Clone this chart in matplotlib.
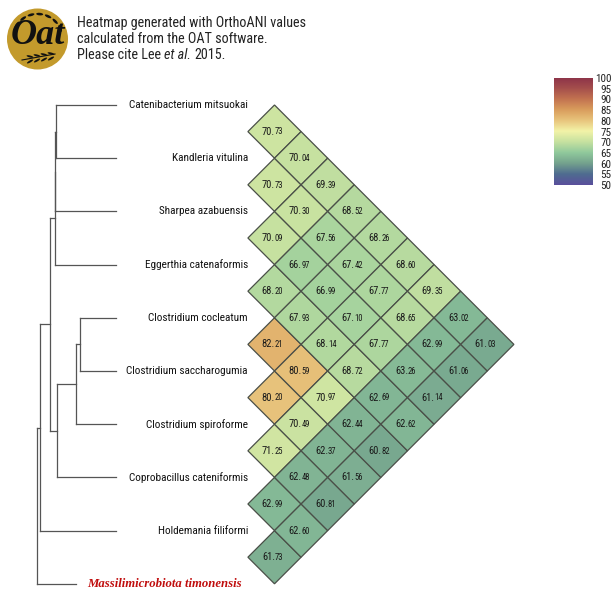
#!/usr/bin/env python

# OrthoANI heatmap with tree on the left

import numpy as np
import matplotlib
matplotlib.use('Agg')
import matplotlib.pyplot as plt
from matplotlib.colors import LinearSegmentedColormap
from matplotlib.patches import Circle, Ellipse, Polygon

plt.rcParams['font.family'] = ['Roboto Condensed', 'DejaVu Sans']

taxa = ['Catenibacterium mitsuokai', 'Kandleria vitulina', 'Sharpea azabuensis',
        'Eggerthia catenaformis', 'Clostridium cocleatum', 'Clostridium saccharogumia',
        'Clostridium spiroforme', 'Coprobacillus cateniformis', 'Holdemania filiformi']
outgroup = 'Massilimicrobiota timonensis'

# one list per distance between taxa, from the top row down
dist1 = [70.73, 70.73, 70.09, 68.20, 82.21, 80.20, 71.25, 62.99, 61.73]
dist2 = [70.04, 70.30, 66.97, 67.93, 80.59, 70.49, 62.48, 62.60]
dist3 = [69.39, 67.56, 66.99, 68.14, 70.97, 62.37, 60.81]
dist4 = [68.52, 67.42, 67.10, 68.72, 62.44, 61.56]
dist5 = [68.26, 67.77, 67.77, 62.69, 60.82]
dist6 = [68.60, 68.65, 63.26, 62.62]
dist7 = [69.35, 62.99, 61.14]
dist8 = [63.02, 61.06]
dist9 = [61.03]
all_dists = [dist1, dist2, dist3, dist4, dist5, dist6, dist7, dist8, dist9]

bar_ticks = [50, 55, 60, 65, 70, 75, 80, 85, 90, 95, 100]
bar_colors = ['#5a4f9c', '#4f6c90', '#74a28d', '#90c99c', '#c6e1a0', '#f3f3a8',
              '#e8c47c', '#d99c5c', '#c27250', '#a44e4c', '#8c3249']

# tree: (x of the node, child, child), a tip is (x of the node, row)
tree = (37,
        (40,
         (50,
          (54.5, (55, (56, (116, 0), (116, 1)), (116, 2)), (116, 3)),
          (57, (76, (79.5, (116, 4), (116, 5)), (116, 6)), (116, 7))),
         (116, 8)),
        (76, 9))

row_y0 = 105
row_h = 53.2
cell_x0 = 274.5
half = 26.6

cmap = LinearSegmentedColormap.from_list('oat', bar_colors)


def draw_tree(ax, node):
    # returns y of the node, x of the node
    if len(node) == 2:
        return row_y0 + node[1] * row_h, node[0]
    x = node[0]
    ys = []
    for child in node[1:]:
        y, cx = draw_tree(ax, child)
        ax.plot([x, cx], [y, y], color='#555555', lw=0.9, solid_capstyle='projecting')
        ys.append(y)
    ax.plot([x, x], [ys[0], ys[1]], color='#555555', lw=0.9, solid_capstyle='projecting')
    return np.mean(ys), x


def draw_logo(ax):
    ax.add_patch(Circle((37.5, 39), 30.5, fc='#c39a2c', ec='none'))
    ax.text(37.5, 36, 'Oat', family='Liberation Serif', style='italic', weight='bold',
            fontsize=26, ha='center', va='center', color='#111111')
    # grains along the top
    for ang in [215, 235, 255, 275, 295, 315, 335]:
        a = np.deg2rad(ang)
        ax.add_patch(Ellipse((37.5 + 25 * np.cos(a), 39 + 25 * np.sin(a)), 7, 2.6, angle=ang + 90,
                             fc='#111111', ec='none'))
    # the sprig below the text
    ax.plot([22, 55], [60, 54], color='#111111', lw=0.8)
    for k in range(4):
        for off in [-1, 1]:
            ax.add_patch(Ellipse((30 + 7 * k, 59 - k + off * 2.5), 7, 2, angle=-8 - off * 22,
                                 fc='#111111', ec='none'))


fig = plt.figure(figsize=(6.14, 5.90), dpi=100)
ax = fig.add_axes([0, 0, 1, 1])
ax.set_xlim(0, 614)
ax.set_ylim(590, 0)
ax.axis('off')

draw_logo(ax)

head_size = 10.2
ax.text(77, 23, 'Heatmap generated with OrthoANI values', fontsize=head_size, va='center', color='#222222')
ax.text(77, 39, 'calculated from the OAT software.', fontsize=head_size, va='center', color='#222222')
t1 = ax.text(77, 55, 'Please cite Lee ', fontsize=head_size, va='center', color='#222222')
t2 = ax.annotate('et al. ', xy=(1, 0.5), xycoords=t1, va='center', fontsize=head_size, style='italic',
                 color='#222222')
ax.annotate('2015.', xy=(1, 0.5), xycoords=t2, va='center', fontsize=head_size, color='#222222')

draw_tree(ax, tree)

for i, name in enumerate(taxa):
    ax.text(248, row_y0 + i * row_h, name, fontsize=8.1, ha='right', va='center', color='#111111')
ax.text(242, row_y0 + 9 * row_h, outgroup, fontsize=9.2, ha='right', va='center', color='#c00d0d',
        family='Liberation Serif', style='italic', weight='bold')

# the diamonds
for k, values in enumerate(all_dists):
    for i, v in enumerate(values):
        cx = cell_x0 + k * half
        cy = row_y0 + (i + (k + 1) / 2) * row_h
        ax.add_patch(Polygon([(cx - half, cy), (cx, cy - half), (cx + half, cy), (cx, cy + half)],
                             fc=cmap((v - 50) / 50), ec='#4a4f48', lw=0.9))
        whole, frac = ('%.2f' % v).split('.')
        ax.text(cx + 0.5, cy, whole + '.', fontsize=7.6, ha='right', va='center', color='#1a1a1a')
        ax.text(cx + 0.2, cy + 0.4, frac, fontsize=6.2, ha='left', va='center', color='#1a1a1a')

# colour bar
cax = fig.add_axes([553.5 / 614, 1 - 185 / 590, 39 / 614, 107 / 590])
cax.imshow(np.linspace(100, 50, 256)[:, None], cmap=cmap, vmin=50, vmax=100, aspect='auto',
           extent=[0, 1, 50, 100])
cax.set_xticks([])
cax.yaxis.tick_right()
cax.set_yticks(bar_ticks)
cax.tick_params(axis='y', length=0, pad=13.5, labelsize=8, labelcolor='#222222')
for lab in cax.get_yticklabels():
    lab.set_ha('right')
for s in cax.spines.values():
    s.set_visible(False)

fig.savefig('out.png', dpi=100)
